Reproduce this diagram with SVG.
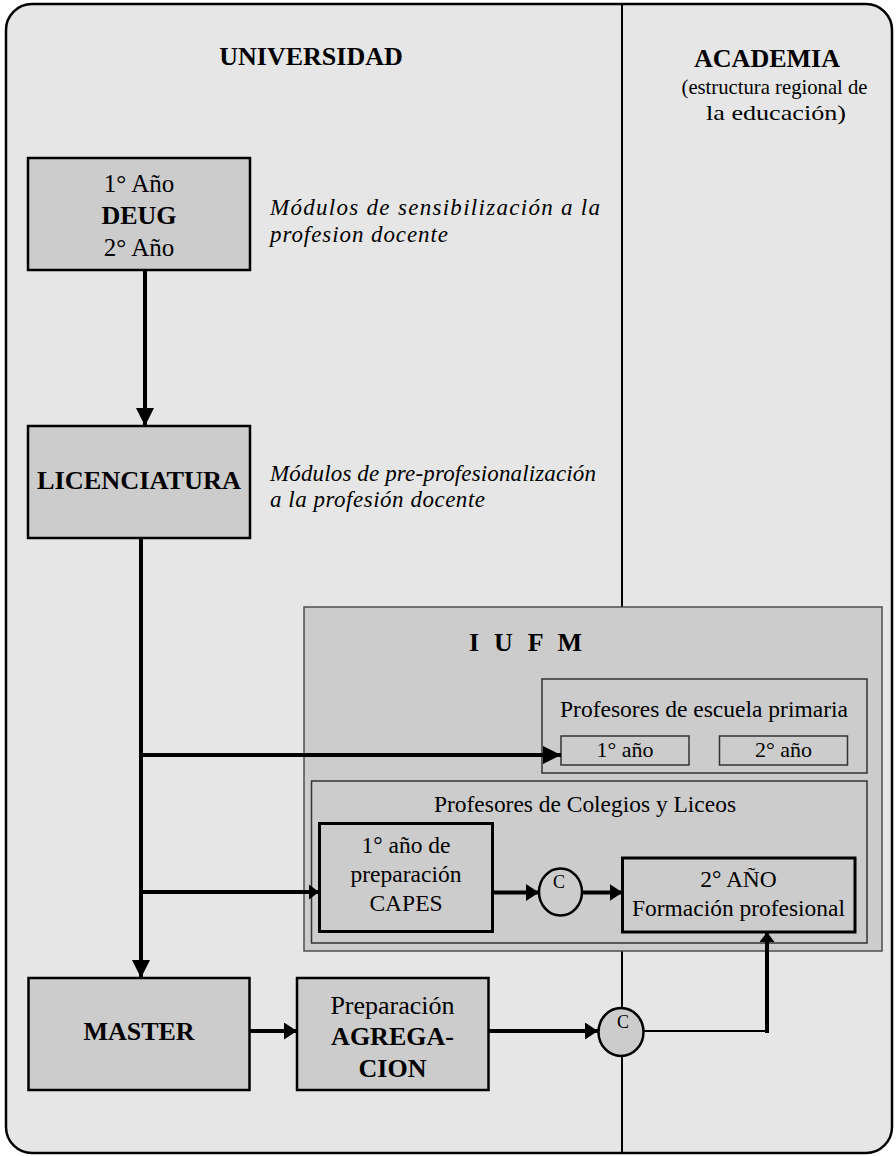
<svg xmlns="http://www.w3.org/2000/svg" width="896" height="1156" viewBox="0 0 896 1156">
<style>
text{font-family:"Liberation Serif","Times New Roman",serif;fill:#000;}
.c{text-anchor:middle;}
.b{font-weight:bold;}
.it{font-style:italic;font-size:23px;}
.r24{font-size:23.5px;}
.box{fill:#cccccc;stroke:#000;stroke-width:2.5;}
.boxT{fill:#cccccc;stroke:#000;stroke-width:3;}
.grp{fill:#cccccc;stroke:#4d4d4d;stroke-width:1.5;}
.sub{fill:#cccccc;stroke:#333;stroke-width:1.5;}
.conn{fill:none;stroke:#000;stroke-width:4;}
.thin{fill:none;stroke:#000;stroke-width:2;}
</style>
<defs>
<marker id="big" markerUnits="userSpaceOnUse" markerWidth="18" markerHeight="18" refX="18" refY="9" orient="auto" viewBox="0 0 18 18">
<path d="M0,0 L18,9 L0,18 z" fill="#000"/>
</marker>
<marker id="med" markerUnits="userSpaceOnUse" markerWidth="13" markerHeight="17" refX="13" refY="8.5" orient="auto" viewBox="0 0 13 17">
<path d="M0,0 L13,8.5 L0,17 z" fill="#000"/>
</marker>
<marker id="sml" markerUnits="userSpaceOnUse" markerWidth="10" markerHeight="15" refX="10" refY="7.5" orient="auto" viewBox="0 0 10 15">
<path d="M0,0 L10,7.5 L0,15 z" fill="#000"/>
</marker>
</defs>

<g id="frame">
<rect x="6" y="4" width="886" height="1149" rx="26" ry="26" fill="#e6e6e6" stroke="#000" stroke-width="2.5"/>
<line x1="622" y1="5" x2="622" y2="1152" stroke="#000" stroke-width="2"/>
</g>

<g id="headers">
<text class="c b" x="311" y="65" font-size="26">UNIVERSIDAD</text>
<text class="c b" x="767" y="67" font-size="26">ACADEMIA</text>
<text class="c" x="774.5" y="94" font-size="22" textLength="186" lengthAdjust="spacingAndGlyphs">(estructura regional de</text>
<text class="c" x="776" y="120" font-size="22" textLength="140" lengthAdjust="spacingAndGlyphs">la educación)</text>
</g>

<g id="deug">
<rect class="box" x="28" y="158" width="222" height="112"/>
<text class="c" x="139" y="192" font-size="25">1° Año</text>
<text class="c b" x="139" y="224" font-size="26">DEUG</text>
<text class="c" x="139" y="256" font-size="25">2° Año</text>
</g>
<g id="note1">
<text class="it" x="270" y="215" textLength="330" lengthAdjust="spacing">Módulos de sensibilización a la</text>
<text class="it" x="270" y="242" textLength="178" lengthAdjust="spacing">profesion docente</text>
</g>

<g id="licenciatura">
<rect class="box" x="28" y="426" width="222" height="112"/>
<text class="c b" x="139" y="489" font-size="26" textLength="204" lengthAdjust="spacingAndGlyphs">LICENCIATURA</text>
</g>
<g id="note2">
<text class="it" x="270" y="481" textLength="326" lengthAdjust="spacing">Módulos de pre-profesionalización</text>
<text class="it" x="270" y="507" textLength="215" lengthAdjust="spacing">a la profesión docente</text>
</g>

<g id="iufm">
<rect class="grp" x="304" y="607" width="578" height="344"/>
<text class="b" x="469" y="651" font-size="26" textLength="113" lengthAdjust="spacing">I U F M</text>
</g>

<g id="primaria">
<rect class="sub" x="542" y="679" width="325" height="94"/>
<text class="c r24" x="704" y="717" textLength="288" lengthAdjust="spacingAndGlyphs">Profesores de escuela primaria</text>
<rect class="sub" x="561" y="736" width="128" height="29"/>
<text class="c" x="625" y="757" font-size="22">1° año</text>
<rect class="sub" x="719.5" y="736" width="128" height="29"/>
<text class="c" x="783.5" y="757" font-size="22">2° año</text>
</g>

<g id="colegios">
<rect class="sub" x="311.5" y="781" width="555.5" height="162"/>
<text class="c r24" x="585" y="812" textLength="302" lengthAdjust="spacingAndGlyphs">Profesores de Colegios y Liceos</text>
</g>

<g id="capes">
<rect class="boxT" x="319.5" y="823.5" width="173" height="108"/>
<text class="c r24" x="406" y="853">1° año de</text>
<text class="c r24" x="406" y="882">preparación</text>
<text class="c r24" x="406" y="911">CAPES</text>
</g>

<g id="c1">
<ellipse cx="560.5" cy="892" rx="21.5" ry="23.5" fill="#cccccc" stroke="#000" stroke-width="2.5"/>
<text class="c" x="559" y="888" font-size="18">C</text>
</g>

<g id="ano2">
<rect class="boxT" x="622.5" y="858" width="232.5" height="74"/>
<text class="c r24" x="738.5" y="887">2° AÑO</text>
<text class="c r24" x="738.5" y="916" textLength="213" lengthAdjust="spacingAndGlyphs">Formación profesional</text>
</g>

<g id="master">
<rect class="box" x="28.5" y="978" width="221" height="112"/>
<text class="c b" x="139" y="1040" font-size="26">MASTER</text>
</g>

<g id="agregacion">
<rect class="box" x="297" y="978" width="191.5" height="112"/>
<text class="c" x="392.5" y="1014" font-size="26">Preparación</text>
<text class="c b" x="392.5" y="1045" font-size="26">AGREGA-</text>
<text class="c b" x="392.5" y="1077" font-size="26">CION</text>
</g>

<g id="connectors">
<line class="conn" x1="145" y1="270" x2="145" y2="426" marker-end="url(#big)"/>
<line class="conn" x1="141" y1="538" x2="141" y2="978" marker-end="url(#big)"/>
<line class="conn" x1="141" y1="755" x2="561" y2="755" marker-end="url(#big)"/>
<line class="conn" x1="141" y1="892" x2="319" y2="892" marker-end="url(#sml)"/>
<line class="conn" x1="492.5" y1="892.5" x2="539" y2="892.5" marker-end="url(#med)"/>
<line class="conn" x1="582" y1="892.5" x2="622.5" y2="892.5" marker-end="url(#med)"/>
<line class="conn" x1="249.5" y1="1031" x2="297" y2="1031" marker-end="url(#med)"/>
<line class="conn" x1="488.5" y1="1031" x2="598" y2="1031" marker-end="url(#med)"/>
<polyline class="thin" points="643,1031 767,1031"/>
<line class="conn" x1="767" y1="1033" x2="767" y2="932" marker-end="url(#sml)"/>
</g>

<g id="c2">
<ellipse cx="621" cy="1032" rx="22.5" ry="24" fill="#cccccc" stroke="#000" stroke-width="2.5"/>
<text class="c" x="623" y="1028" font-size="18">C</text>
</g>
</svg>
